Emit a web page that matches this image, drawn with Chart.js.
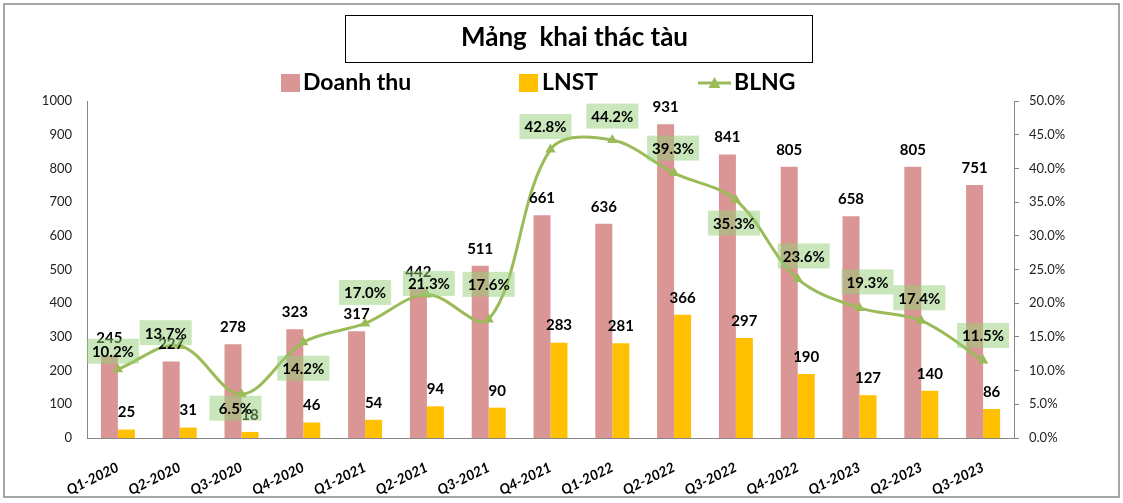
<!DOCTYPE html>
<html>
<head>
<meta charset="utf-8">
<script src="https://cdn.jsdelivr.net/npm/chart.js@4.4.0/dist/chart.umd.min.js"></script>
<style>
  html, body { margin: 0; padding: 0; background: #fff; }
</style>
</head>
<body>
<canvas id="chart" width="1123" height="503"></canvas>
<script>
const quarters = ['Q1-2020', 'Q2-2020', 'Q3-2020', 'Q4-2020', 'Q1-2021', 'Q2-2021', 'Q3-2021', 'Q4-2021',
  'Q1-2022', 'Q2-2022', 'Q3-2022', 'Q4-2022', 'Q1-2023', 'Q2-2023', 'Q3-2023']
const doanhThu = [245, 227, 278, 323, 317, 442, 511, 661, 636, 931, 841, 805, 658, 805, 751]
const lnst = [25, 31, 18, 46, 54, 94, 90, 283, 281, 366, 297, 190, 127, 140, 86]
const blng = [10.2, 13.7, 6.5, 14.2, 17.0, 21.3, 17.6, 42.8, 44.2, 39.3, 35.3, 23.6, 19.3, 17.4, 11.5]

// where each BLNG label box sits relative to its point (px)
const blngLabelShift = [[-5, -18], [-14, -13], [-6, 14], [0, 26], [0, -31], [2, -11], [0, -35], [-5, -23],
  [0, -24], [-1, -25], [-2, 23], [6, -23], [8, -26], [-2, -23], [0, -25]]

const PINK = 'rgb(217, 150, 148)'
const GOLD = 'rgb(255, 192, 0)'
const GREEN = 'rgb(155, 187, 89)'
const FONT = 'Lato, "Liberation Sans", sans-serif'

Chart.defaults.font.family = FONT
Chart.defaults.color = '#222'

const frame = {
  id: 'frame',
  beforeDraw (chart) {
    const ctx = chart.ctx
    ctx.save()
    ctx.fillStyle = '#fff'
    ctx.fillRect(0, 0, chart.width, chart.height)
    ctx.strokeStyle = '#a6a6a6'
    ctx.lineWidth = 2
    ctx.strokeRect(4, 4, 1115, 493)
    // box round the title
    ctx.strokeStyle = '#000'
    ctx.lineWidth = 1
    ctx.strokeRect(345.5, 15.5, 467, 47)
    ctx.restore()
  }
}

const legendRow = {
  id: 'legendRow',
  afterDraw (chart) {
    const ctx = chart.ctx
    const y = 83
    ctx.save()
    ctx.font = 'bold 23px ' + FONT
    ctx.textBaseline = 'middle'
    ctx.textAlign = 'left'
    ctx.fillStyle = PINK
    ctx.fillRect(281, y - 9, 19, 18)
    ctx.fillStyle = '#000'
    ctx.fillText(chart.data.datasets[0].label, 303, y)
    ctx.fillStyle = GOLD
    ctx.fillRect(519, y - 9, 19, 18)
    ctx.fillStyle = '#000'
    ctx.fillText(chart.data.datasets[1].label, 542, y)
    ctx.strokeStyle = GREEN
    ctx.lineWidth = 3
    ctx.beginPath()
    ctx.moveTo(698, y)
    ctx.lineTo(731, y)
    ctx.stroke()
    ctx.fillStyle = GREEN
    ctx.beginPath()
    ctx.moveTo(714.5, y - 6)
    ctx.lineTo(720.5, y + 5)
    ctx.lineTo(708.5, y + 5)
    ctx.closePath()
    ctx.fill()
    ctx.fillStyle = '#000'
    ctx.fillText(chart.data.datasets[2].label, 734, y)
    ctx.restore()
  }
}

const valueLabels = {
  id: 'valueLabels',
  afterDatasetsDraw (chart) {
    const ctx = chart.ctx
    ctx.save()
    ctx.font = 'bold 15px ' + FONT
    ctx.textAlign = 'center'
    ctx.textBaseline = 'middle'
    ctx.fillStyle = '#000';
    [0, 1].forEach(di => {
      const values = chart.data.datasets[di].data
      chart.getDatasetMeta(di).data.forEach((bar, i) => {
        ctx.fillText(String(values[i]), bar.x, bar.y - 17)
      })
    })
    chart.getDatasetMeta(2).data.forEach((pt, i) => {
      const cx = pt.x + blngLabelShift[i][0]
      const cy = pt.y + blngLabelShift[i][1]
      ctx.fillStyle = 'rgba(150, 208, 120, 0.5)'
      ctx.fillRect(cx - 26, cy - 12.5, 52, 25)
      ctx.fillStyle = '#000'
      ctx.fillText(blng[i].toFixed(1) + '%', cx, cy + 1)
    })
    ctx.restore()
  }
}

// eslint-disable-next-line no-new
new Chart(document.getElementById('chart'), {
  type: 'bar',
  data: {
    labels: quarters,
    datasets: [
      { label: 'Doanh thu', data: doanhThu, backgroundColor: PINK, yAxisID: 'y', order: 1, categoryPercentage: 0.55, barPercentage: 1 },
      { label: 'LNST', data: lnst, backgroundColor: GOLD, yAxisID: 'y', order: 1, categoryPercentage: 0.55, barPercentage: 1 },
      {
        label: 'BLNG',
        type: 'line',
        data: blng,
        yAxisID: 'y1',
        order: 0,
        borderColor: GREEN,
        backgroundColor: GREEN,
        borderWidth: 3,
        tension: 0.35,
        pointStyle: 'triangle',
        pointRadius: 6,
        pointBorderWidth: 0
      }
    ]
  },
  options: {
    responsive: false,
    animation: false,
    layout: { padding: { top: 0, left: 26, right: 0, bottom: 8 } },
    plugins: {
      legend: { display: false },
      tooltip: { enabled: false },
      title: {
        display: true,
        text: 'Mảng  khai thác tàu',
        color: '#000',
        font: { size: 26, weight: 'bold' },
        padding: { top: 22.4, bottom: 47.4 }
      }
    },
    scales: {
      x: {
        grid: { display: false },
        border: { display: true, color: '#868686' },
        ticks: {
          minRotation: 26,
          maxRotation: 26,
          padding: 13,
          color: '#000',
          font: { size: 14, weight: 'bold', style: 'italic' }
        },
        afterFit (scale) { scale.height = 57 }
      },
      y: {
        min: 0,
        max: 1000,
        grid: { display: false, drawTicks: false },
        border: { display: true, color: '#868686' },
        ticks: { stepSize: 100, padding: 15, font: { size: 13 }, callback: v => String(v) },
        afterFit (scale) { scale.width = 61 }
      },
      y1: {
        position: 'right',
        min: 0,
        max: 50,
        grid: { drawOnChartArea: false, drawTicks: true, tickLength: 5, color: '#868686' },
        border: { display: true, color: '#868686' },
        ticks: {
          stepSize: 5,
          padding: 10,
          font: { size: 13 },
          callback: v => v.toFixed(1) + '%'
        },
        afterFit (scale) { scale.width = 109 }
      }
    }
  },
  plugins: [frame, valueLabels, legendRow]
})
</script>
</body>
</html>
